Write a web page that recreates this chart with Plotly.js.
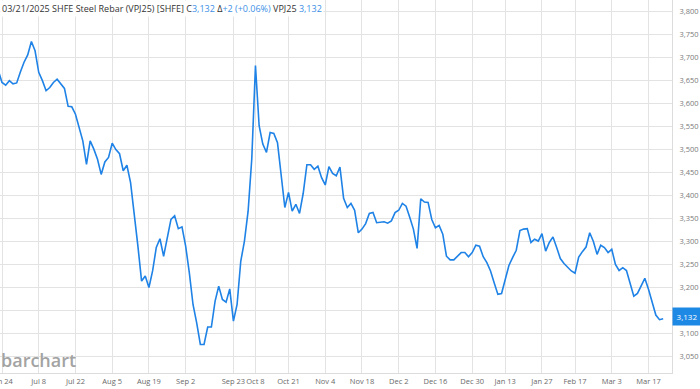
<!DOCTYPE html>
<html>
<head>
<meta charset="utf-8">
<script src="https://cdn.plot.ly/plotly-3.0.1.min.js"></script>
<style>
  html, body { margin: 0; padding: 0; background: #ffffff; }
  #chart { width: 700px; height: 389px; }
</style>
</head>
<body>
<div id="chart"></div>
<script>
// Trading days (SHFE), Jun 21 2024 .. Mar 21 2025
const dates = [
  '2024-06-21',
  '2024-06-24','2024-06-25','2024-06-26','2024-06-27','2024-06-28',
  '2024-07-01','2024-07-02','2024-07-03','2024-07-04','2024-07-05',
  '2024-07-08','2024-07-09','2024-07-10','2024-07-11','2024-07-12',
  '2024-07-15','2024-07-16','2024-07-17','2024-07-18','2024-07-19',
  '2024-07-22','2024-07-23','2024-07-24','2024-07-25','2024-07-26',
  '2024-07-29','2024-07-30','2024-07-31','2024-08-01','2024-08-02',
  '2024-08-05','2024-08-06','2024-08-07','2024-08-08','2024-08-09',
  '2024-08-12','2024-08-13','2024-08-14','2024-08-15','2024-08-16',
  '2024-08-19','2024-08-20','2024-08-21','2024-08-22','2024-08-23',
  '2024-08-26','2024-08-27','2024-08-28','2024-08-29','2024-08-30',
  '2024-09-02','2024-09-03','2024-09-04','2024-09-05','2024-09-06',
  '2024-09-09','2024-09-10','2024-09-11','2024-09-12','2024-09-13',
  '2024-09-18','2024-09-19','2024-09-20',
  '2024-09-23','2024-09-24','2024-09-25','2024-09-26','2024-09-27',
  '2024-09-30',
  '2024-10-08','2024-10-09','2024-10-10','2024-10-11',
  '2024-10-14','2024-10-15','2024-10-16','2024-10-17','2024-10-18',
  '2024-10-21','2024-10-22','2024-10-23','2024-10-24','2024-10-25',
  '2024-10-28','2024-10-29','2024-10-30','2024-10-31','2024-11-01',
  '2024-11-04','2024-11-05','2024-11-06','2024-11-07','2024-11-08',
  '2024-11-11','2024-11-12','2024-11-13','2024-11-14','2024-11-15',
  '2024-11-18','2024-11-19','2024-11-20','2024-11-21','2024-11-22',
  '2024-11-25','2024-11-26','2024-11-27','2024-11-28','2024-11-29',
  '2024-12-02','2024-12-03','2024-12-04','2024-12-05','2024-12-06',
  '2024-12-09','2024-12-10','2024-12-11','2024-12-12','2024-12-13',
  '2024-12-16','2024-12-17','2024-12-18','2024-12-19','2024-12-20',
  '2024-12-23','2024-12-24','2024-12-25','2024-12-26','2024-12-27',
  '2024-12-30','2024-12-31','2025-01-02','2025-01-03',
  '2025-01-06','2025-01-07','2025-01-08','2025-01-09','2025-01-10',
  '2025-01-13','2025-01-14','2025-01-15','2025-01-16','2025-01-17',
  '2025-01-20','2025-01-21','2025-01-22','2025-01-23','2025-01-24',
  '2025-01-27',
  '2025-02-05','2025-02-06','2025-02-07',
  '2025-02-10','2025-02-11','2025-02-12','2025-02-13','2025-02-14',
  '2025-02-17','2025-02-18','2025-02-19','2025-02-20','2025-02-21',
  '2025-02-24','2025-02-25','2025-02-26','2025-02-27','2025-02-28',
  '2025-03-03','2025-03-04','2025-03-05','2025-03-06','2025-03-07',
  '2025-03-10','2025-03-11','2025-03-12','2025-03-13','2025-03-14',
  '2025-03-17','2025-03-18','2025-03-19','2025-03-20','2025-03-21'
];

// Closing prices (CNY/t)
const closes = [
  3672,
  3646,3640,3650,3643,3645,
  3669,3690,3706,3735,3715,
  3668,3650,3628,3635,3646,
  3653,3642,3633,3594,3593,
  3577,3548,3519,3468,3519,
  3501,3479,3446,3473,3483,
  3514,3500,3491,3454,3466,
  3428,3363,3290,3214,3225,
  3200,3236,3287,3306,3268,
  3308,3348,3356,3328,3332,
  3290,3232,3163,3123,3076,
  3076,3114,3114,3170,3203,
  3174,3168,3197,
  3127,3163,3257,3301,3366,
  3480,
  3683,3552,3512,3494,
  3537,3535,3515,3439,3374,
  3407,3366,3381,3361,3405,
  3467,3467,3457,3464,3439,
  3423,3463,3448,3443,3462,
  3394,3374,3383,3368,3319,
  3327,3339,3361,3363,3341,
  3342,3343,3340,3345,3363,
  3368,3383,3377,3353,3327,
  3285,3393,3386,3385,3348,
  3330,3335,3316,3268,3260,
  3260,3267,3276,3276,3267,
  3276,3292,3290,3267,
  3254,3236,3210,3185,3187,
  3221,3248,3265,3281,3324,
  3327,3328,3298,3305,3301,
  3317,
  3279,3298,3310,
  3287,3263,3252,3243,3236,
  3231,3266,3278,3288,3319,
  3300,3272,3292,3287,3276,
  3283,3250,3237,3243,3237,
  3210,3181,3187,3203,3220,
  3196,3167,3140,3130,3132
];

const tickDates = ['2024-06-24','2024-07-08','2024-07-22','2024-08-05','2024-08-19','2024-09-02',
  '2024-09-23','2024-10-08','2024-10-21','2024-11-04','2024-11-18','2024-12-02','2024-12-16',
  '2024-12-30','2025-01-13','2025-01-27','2025-02-17','2025-03-03','2025-03-17'];
const tickLabels = ['Jun 24','Jul 8','Jul 22','Aug 5','Aug 19','Sep 2','Sep 23','Oct 8','Oct 21',
  'Nov 4','Nov 18','Dec 2','Dec 16','Dec 30','Jan 13','Jan 27','Feb 17','Mar 3','Mar 17'];

const lastClose = closes[closes.length - 1];
const fmt = v => v.toLocaleString('en-US');

const FONT = 'Open Sans, Segoe UI, Arial, sans-serif';
const BLUE = '#1e82e6';
const LBLUE = '#3d8fe6';

const trace = {
  x: dates,
  y: closes,
  type: 'scatter',
  mode: 'lines',
  line: { color: BLUE, width: 1.6 },
  hoverinfo: 'skip'
};

const header = '03/21/2025 SHFE Steel Rebar (VPJ25) [SHFE] C' +
  '<span style="color:' + LBLUE + '">' + fmt(lastClose) + '</span> Δ' +
  '<span style="color:' + LBLUE + '">+2 (+0.06%)</span> VPJ25 ' +
  '<span style="color:' + LBLUE + '">' + fmt(lastClose) + '</span>';

const layout = {
  width: 700,
  height: 389,
  margin: { l: 0, r: 28, t: 0, b: 16, pad: 0 },
  paper_bgcolor: '#ffffff',
  plot_bgcolor: '#ffffff',
  showlegend: false,
  hovermode: false,
  font: { family: FONT, color: '#666666', size: 8 },
  xaxis: {
    type: 'category',
    range: [0.455, 183.4],
    tickmode: 'array',
    tickvals: tickDates,
    ticktext: tickLabels,
    tickangle: 0,
    showgrid: true,
    gridcolor: '#e3e3e3',
    gridwidth: 1,
    showline: true,
    linecolor: '#dcdcdc',
    linewidth: 1,
    ticks: '',
    ticklabelstandoff: 1,
    tickfont: { family: FONT, size: 7.5, color: '#6a6a6a' },
    zeroline: false,
    fixedrange: true
  },
  yaxis: {
    side: 'right',
    range: [3014, 3825.4],
    tick0: 3000,
    dtick: 50,
    tickformat: ',d',
    showgrid: true,
    gridcolor: '#e3e3e3',
    gridwidth: 1,
    showline: true,
    linecolor: '#dcdcdc',
    linewidth: 1,
    ticks: 'outside',
    ticklen: 5,
    tickcolor: 'rgba(0,0,0,0)',
    tickfont: { family: FONT, size: 7.5, color: '#7a7a7a' },
    zeroline: false,
    fixedrange: true
  },
  annotations: [
    {
      xref: 'paper', yref: 'paper', x: 0, y: 1,
      xanchor: 'left', yanchor: 'top',
      text: header,
      showarrow: false,
      bgcolor: '#ffffff',
      borderpad: 1,
      font: { family: FONT, size: 9, color: '#333333' },
      align: 'left'
    },
    {
      xref: 'paper', yref: 'paper', x: 0, y: 0,
      xanchor: 'left', yanchor: 'bottom',
      text: 'barchart',
      showarrow: false,
      borderpad: 0,
      font: { family: FONT, size: 18, color: '#a3a3a3', weight: 600 }
    },
    {
      xref: 'paper', yref: 'y', x: 1, y: lastClose,
      xanchor: 'left', yanchor: 'middle',
      text: fmt(lastClose),
      showarrow: false,
      bgcolor: '#1e88e5',
      width: 26,
      height: 15,
      borderpad: 1,
      yshift: 2,
      font: { family: FONT, size: 8, color: '#ffffff' }
    }
  ]
};

Plotly.newPlot('chart', [trace], layout, { displayModeBar: false, staticPlot: true });
</script>
</body>
</html>
